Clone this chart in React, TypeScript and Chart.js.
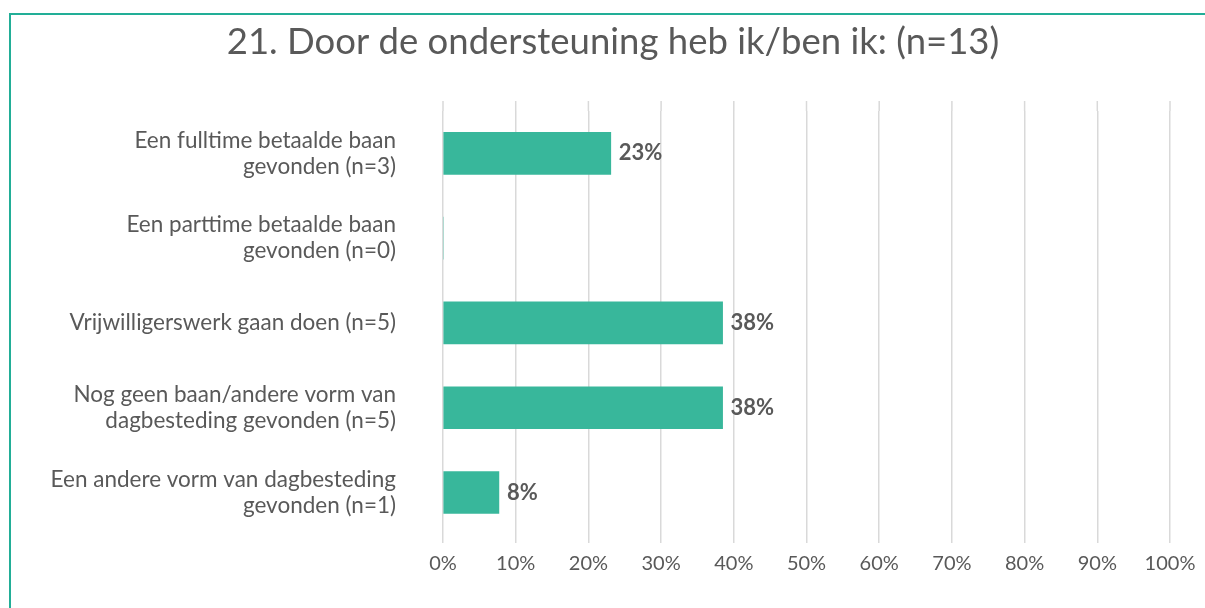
import React, { useEffect, useRef } from "react";
import { Chart, registerables } from "chart.js";

Chart.register(...registerables);

const TITLE = "21. Door de ondersteuning heb ik/ben ik: (n=13)";
const categories: (string | string[])[] = [
  ["Een fulltime betaalde baan", "gevonden (n=3)"],
  ["Een parttime betaalde baan", "gevonden (n=0)"],
  "Vrijwilligerswerk gaan doen (n=5)",
  ["Nog geen baan/andere vorm van", "dagbesteding gevonden (n=5)"],
  ["Een andere vorm van dagbesteding", "gevonden (n=1)"],
];
const values = [23.08, 0, 38.46, 38.46, 7.69];
const xTicks = [0, 10, 20, 30, 40, 50, 60, 70, 80, 90, 100];

const FONT = "Lato, 'Open Sans', sans-serif";
const TEXT = "#595959";
const BAR = "#38b79b";
const FRAME = "#22ae97";
const GRID = "#d9d9d9";

const dataLabels = {
  id: "dataLabels",
  afterDatasetsDraw(chart: any) {
    const ctx = chart.ctx;
    const meta = chart.getDatasetMeta(0);
    ctx.save();
    ctx.font = `bold 22px ${FONT}`;
    ctx.fillStyle = TEXT;
    ctx.textBaseline = "middle";
    ctx.textAlign = "left";
    meta.data.forEach((el: any, i: number) => {
      const v = values[i];
      if (!v) return;
      ctx.fillText(`${Math.round(v)}%`, el.x + 8, el.y);
    });
    ctx.restore();
  },
};

const gridExtension = {
  id: "gridExtension",
  beforeDatasetsDraw(chart: any) {
    const ctx = chart.ctx;
    const xs = chart.scales.x;
    const top = chart.chartArea.top;
    ctx.save();
    ctx.strokeStyle = GRID;
    ctx.lineWidth = 1.5;
    xTicks.forEach((v) => {
      const px = xs.getPixelForValue(v);
      ctx.beginPath();
      ctx.moveTo(px, top - 10);
      ctx.lineTo(px, top);
      ctx.stroke();
    });
    ctx.restore();
  },
};

const titlePlugin = {
  id: "centeredTitle",
  afterDraw(chart: any) {
    const ctx = chart.ctx;
    ctx.save();
    ctx.font = `36.5px ${FONT}`;
    ctx.fillStyle = TEXT;
    ctx.textAlign = "center";
    ctx.textBaseline = "alphabetic";
    ctx.fillText(TITLE, (chart.width + 21) / 2, 54);
    ctx.restore();
  },
};

export default function App() {
  const ref = useRef<HTMLCanvasElement>(null);
  useEffect(() => {
    if (!ref.current) return;
    const chart = new Chart(ref.current, {
      type: "bar",
      data: {
        labels: categories,
        datasets: [
          {
            data: values,
            backgroundColor: BAR,
            barThickness: 42,
          },
        ],
      },
      options: {
        indexAxis: "y",
        responsive: false,
        animation: false,
        layout: { padding: { left: 0, right: 35, bottom: 11, top: 111 } },
        plugins: {
          legend: { display: false },
          tooltip: { enabled: false },
          title: { display: false },
        },
        scales: {
          x: {
            min: 0,
            max: 100,
            afterBuildTicks: (scale: any) => {
              scale.ticks = xTicks.map((v) => ({ value: v }));
            },
            ticks: {
              callback: (v: any) => `${v}%`,
              color: TEXT,
              font: { family: FONT, size: 20, lineHeight: 1.2 },
              padding: 9,
              maxRotation: 0,
            },
            grid: {
              color: GRID,
              lineWidth: 1.5,
              drawTicks: true,
              tickLength: 8,
            },
            border: { display: false },
          },
          y: {
            afterFit: (scale: any) => {
              scale.width = 443;
            },
            ticks: {
              color: TEXT,
              font: { family: FONT, size: 22.5, lineHeight: 1.16 },
              padding: 47,
            },
            grid: { display: false, drawTicks: false },
            border: { display: false },
          },
        },
      },
      plugins: [gridExtension, dataLabels, titlePlugin],
    });
    return () => chart.destroy();
  }, []);

  return (
    <div
      style={{
        position: "absolute",
        left: 0,
        top: 0,
        width: 1205,
        height: 608,
        overflow: "hidden",
        background: "#fff",
      }}
    >
      <div
        style={{
          position: "absolute",
          left: 9,
          top: 13,
          width: 1400,
          height: 800,
          border: `2px solid ${FRAME}`,
        }}
      />
      <canvas
        ref={ref}
        width={1205}
        height={608}
        style={{ position: "absolute", left: 0, top: 0, display: "block" }}
      />
    </div>
  );
}
